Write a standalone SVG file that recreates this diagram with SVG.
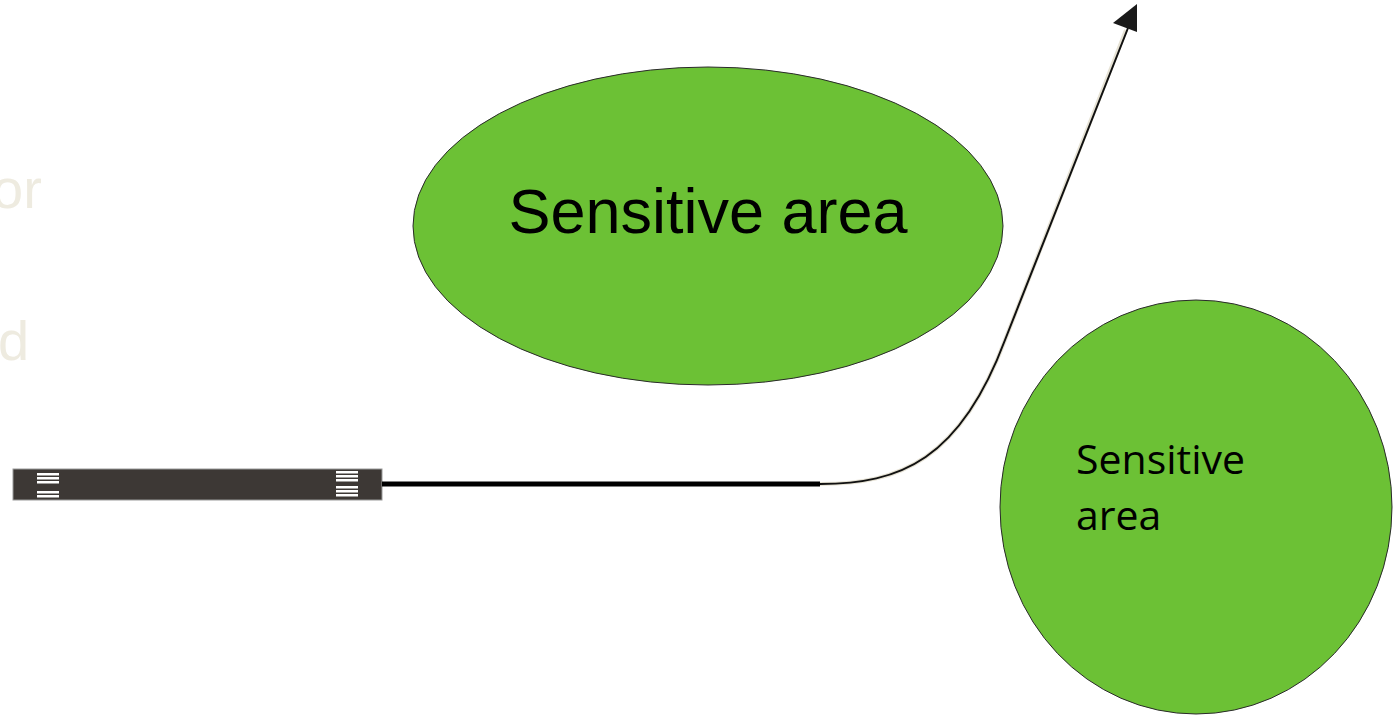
<svg xmlns="http://www.w3.org/2000/svg" width="1396" height="715" viewBox="0 0 1396 715">
<style>
.area{fill:#6cc135;stroke:#2a2a2a;stroke-width:1}
.faint{fill:#eeebe0;font-family:"Liberation Sans",Arial,sans-serif;font-size:56px}
.mark{fill:#ffffff}
</style>
<rect width="1396" height="715" fill="#ffffff"/>
<text class="faint" x="-8" y="208">or</text>
<text class="faint" x="-2" y="360">d</text>
<g id="area1">
<ellipse class="area" cx="708" cy="226" rx="295" ry="159"/>
<text x="708" y="233" text-anchor="middle" font-family="Liberation Sans,Arial,sans-serif" font-size="63" fill="#000">Sensitive area</text>
</g>
<g id="area2">
<ellipse class="area" cx="1196" cy="507" rx="196" ry="207"/>
<text font-family="Open Sans,Noto Sans,sans-serif" font-size="41" fill="#000"><tspan x="1076" y="474">Sensitive</tspan><tspan x="1076" y="530">area</tspan></text>
</g>
<g id="sensor">
<rect x="13" y="469" width="369" height="31" fill="#3d3835" stroke="#9a9a9a" stroke-width="1"/>
<rect class="mark" x="37" y="473" width="22" height="2.5"/>
<rect class="mark" x="37" y="477" width="22" height="2.5"/>
<rect class="mark" x="37" y="481" width="22" height="2.5"/>
<rect class="mark" x="37" y="491" width="22" height="2.5"/>
<rect class="mark" x="37" y="495" width="22" height="2.5"/>
<rect class="mark" x="336" y="471" width="22" height="2.5"/>
<rect class="mark" x="336" y="475" width="22" height="2.5"/>
<rect class="mark" x="336" y="479" width="22" height="2.5"/>
<rect class="mark" x="336" y="486" width="22" height="2.5"/>
<rect class="mark" x="336" y="490" width="22" height="2.5"/>
<rect class="mark" x="336" y="494" width="22" height="2.5"/>
</g>
<g id="connectors">
<line x1="382" y1="484" x2="820" y2="484" stroke="#000" stroke-width="5"/>
<path d="M820,484 C900,484 960,460 1005,340 L1126,30" fill="none" stroke="#e6e2d4" stroke-width="4"/>
<path d="M820,484 C900,484 960,460 1005,340 L1128,28" fill="none" stroke="#111" stroke-width="2"/>
<path d="M1137,4 L1113,23 L1137,32 z" fill="#1a1a1a"/>
</g>
</svg>
